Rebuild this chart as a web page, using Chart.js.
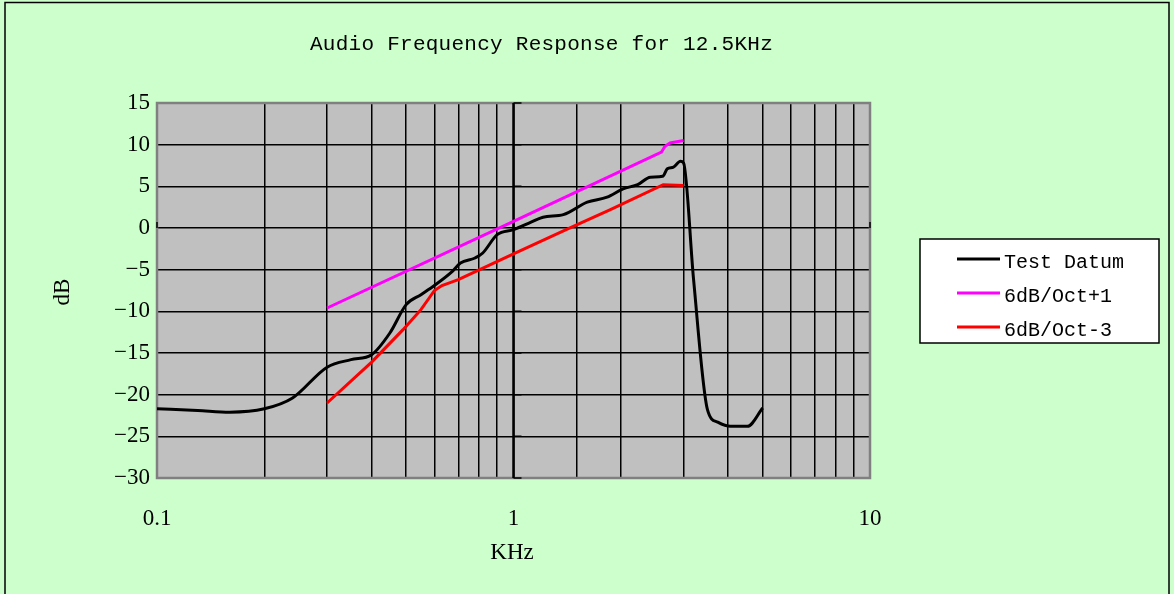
<!DOCTYPE html>
<html>
<head>
<meta charset="utf-8">
<script src="https://cdn.jsdelivr.net/npm/chart.js@4.4.1/dist/chart.umd.min.js"></script>
<style>
  html, body { margin: 0; padding: 0; background: #ccffcc; }
  canvas { display: block; }
</style>
</head>
<body>
<canvas id="chart" width="1174" height="594"></canvas>
<script>
// Test datum (KHz / dB)
const testFreq = [0.1, 0.13, 0.16, 0.2, 0.24, 0.3, 0.35, 0.4, 0.45, 0.5, 0.55, 0.6, 0.67, 0.71, 0.78, 0.82, 0.9, 1.0, 1.12, 1.21, 1.38, 1.61, 1.83, 2.03, 2.23, 2.42, 2.62, 2.7, 2.81, 2.94, 3.0, 3.2, 3.5, 3.74, 4.06, 4.53, 5.0];
const testDb = [-21.7, -21.9, -22.1, -21.7, -20.4, -16.7, -15.8, -15.2, -12.6, -9.2, -8.0, -6.9, -5.3, -4.2, -3.6, -3.0, -0.8, -0.2, 0.7, 1.3, 1.6, 3.1, 3.7, 4.7, 5.2, 6.1, 6.2, 7.1, 7.3, 8.0, 7.8, -6.2, -21.8, -23.3, -23.8, -23.8, -21.6];

// 6dB/Oct+1 limit
const upperFreq = [0.3, 1.0, 2.6, 2.66, 2.75, 3.0];
const upperDb = [-9.6, 0.8, 9.1, 9.8, 10.2, 10.5];

// 6dB/Oct-3 limit
const lowerFreq = [0.3, 0.4, 0.49, 0.55, 0.58, 0.6, 0.63, 0.67, 0.7, 1.0, 1.42, 1.87, 2.63, 3.0];
const lowerDb = [-21.0, -16.1, -12.2, -9.8, -8.4, -7.5, -6.9, -6.5, -6.2, -3.1, -0.1, 2.2, 5.2, 5.1];

const seriesNames = ["Test Datum", "6dB/Oct+1", "6dB/Oct-3"];
const seriesColors = ["#000000", "#ff00ff", "#ff0000"];

const xTickValues = [0.1, 1, 10];
const xTickLabels = ["0.1", "1", "10"];
const yTickValues = [15, 10, 5, 0, -5, -10, -15, -20, -25, -30];

const titleText = "Audio Frequency Response for 12.5KHz";
const xTitle = "KHz";
const yTitle = "dB";

function pts(xs, ys) {
  return xs.map((x, i) => ({ x: x, y: ys[i] }));
}

const serifFont = "'Liberation Serif', 'Times New Roman', serif";
const monoFont = "'Liberation Mono', 'Courier New', monospace";

// background, plot box, axis at 1 KHz, titles, legend
const decor = {
  id: "decor",
  beforeDraw(chart) {
    const ctx = chart.ctx, a = chart.chartArea;
    ctx.save();
    ctx.fillStyle = "#ccffcc";
    ctx.fillRect(0, 0, chart.width, chart.height);
    ctx.strokeStyle = "#000";
    ctx.lineWidth = 1.5;
    ctx.strokeRect(5, 2.5, chart.width - 10, chart.height + 10);
    ctx.fillStyle = "#c0c0c0";
    ctx.fillRect(a.left, a.top, a.right - a.left, a.bottom - a.top);
    ctx.restore();
  },
  beforeDatasetsDraw(chart) {
    const ctx = chart.ctx, a = chart.chartArea;
    const xs = chart.scales.x, ys = chart.scales.y;
    ctx.save();
    ctx.strokeStyle = "#808080";
    ctx.lineWidth = 2.5;
    ctx.strokeRect(a.left, a.top, a.right - a.left, a.bottom - a.top);
    // value axis crossing at 1 KHz
    const x1 = xs.getPixelForValue(1);
    ctx.strokeStyle = "#000";
    ctx.lineWidth = 2.5;
    ctx.beginPath();
    ctx.moveTo(x1, a.top);
    ctx.lineTo(x1, a.bottom);
    ctx.stroke();
    ctx.lineWidth = 1.5;
    ctx.beginPath();
    yTickValues.forEach(v => {
      const y = ys.getPixelForValue(v);
      ctx.moveTo(x1, y);
      ctx.lineTo(x1 + 8, y);
    });
    // category axis ticks at y = 0
    const y0 = ys.getPixelForValue(0);
    xTickValues.forEach(v => {
      const x = xs.getPixelForValue(v);
      ctx.moveTo(x, y0);
      ctx.lineTo(x, y0 - 6);
    });
    ctx.stroke();
    ctx.restore();
  },
  afterDraw(chart) {
    const ctx = chart.ctx;
    ctx.save();
    ctx.fillStyle = "#000";
    // chart title
    ctx.font = "21px " + monoFont;
    ctx.textBaseline = "middle";
    ctx.textAlign = "left";
    const w = ctx.measureText(titleText).width;
    ctx.letterSpacing = ((463 - w) / titleText.length) + "px";
    ctx.fillText(titleText, 310, 44);
    ctx.letterSpacing = "0px";
    // axis titles
    ctx.font = "23px " + serifFont;
    ctx.textAlign = "center";
    ctx.fillText(xTitle, 512, 553);
    ctx.save();
    ctx.translate(63, 292);
    ctx.rotate(-Math.PI / 2);
    ctx.fillText(yTitle, 0, 0);
    ctx.restore();
    // legend
    ctx.fillStyle = "#fff";
    ctx.fillRect(920, 239, 239, 104);
    ctx.strokeStyle = "#000";
    ctx.lineWidth = 1.5;
    ctx.strokeRect(920, 239, 239, 104);
    ctx.font = "20px " + monoFont;
    ctx.textAlign = "left";
    chart.data.datasets.forEach((ds, i) => {
      const y = 259 + i * 34;
      ctx.strokeStyle = ds.borderColor;
      ctx.lineWidth = 3;
      ctx.beginPath();
      ctx.moveTo(957, y);
      ctx.lineTo(1000, y);
      ctx.stroke();
      ctx.fillStyle = "#000";
      ctx.fillText(ds.label, 1004, y + 4);
    });
    ctx.restore();
  }
};

new Chart(document.getElementById("chart"), {
  type: "line",
  data: {
    datasets: [
      { label: seriesNames[0], data: pts(testFreq, testDb), borderColor: seriesColors[0], borderWidth: 3, pointRadius: 0, cubicInterpolationMode: "monotone" },
      { label: seriesNames[1], data: pts(upperFreq, upperDb), borderColor: seriesColors[1], borderWidth: 3, pointRadius: 0, tension: 0 },
      { label: seriesNames[2], data: pts(lowerFreq, lowerDb), borderColor: seriesColors[2], borderWidth: 3, pointRadius: 0, tension: 0 }
    ]
  },
  options: {
    responsive: false,
    animation: false,
    layout: { padding: { left: 0, top: 103, right: 304, bottom: 0 } },
    plugins: { legend: { display: false }, title: { display: false }, tooltip: { enabled: false } },
    scales: {
      x: {
        type: "logarithmic",
        min: 0.1,
        max: 10,
        afterFit(scale) { scale.height = 116; },
        border: { display: false },
        grid: { color: "#000", lineWidth: 1.5, drawTicks: false },
        ticks: {
          autoSkip: false,
          maxRotation: 0,
          padding: 27,
          color: "#000",
          font: { family: serifFont, size: 23 },
          callback(value) {
            const i = xTickValues.findIndex(v => Math.abs(v - value) < 1e-9);
            return i >= 0 ? xTickLabels[i] : "";
          }
        }
      },
      y: {
        min: -30,
        max: 15,
        afterFit(scale) { scale.width = 157; },
        afterBuildTicks(scale) { scale.ticks = yTickValues.map(v => ({ value: v })); },
        border: { display: false },
        grid: { color: "#000", lineWidth: 1.5, drawTicks: false },
        ticks: {
          padding: 7,
          color: "#000",
          font: { family: serifFont, size: 23 },
          callback(value) { return String(value).replace("-", "\u2212"); }
        }
      }
    }
  },
  plugins: [decor]
});
</script>
</body>
</html>
